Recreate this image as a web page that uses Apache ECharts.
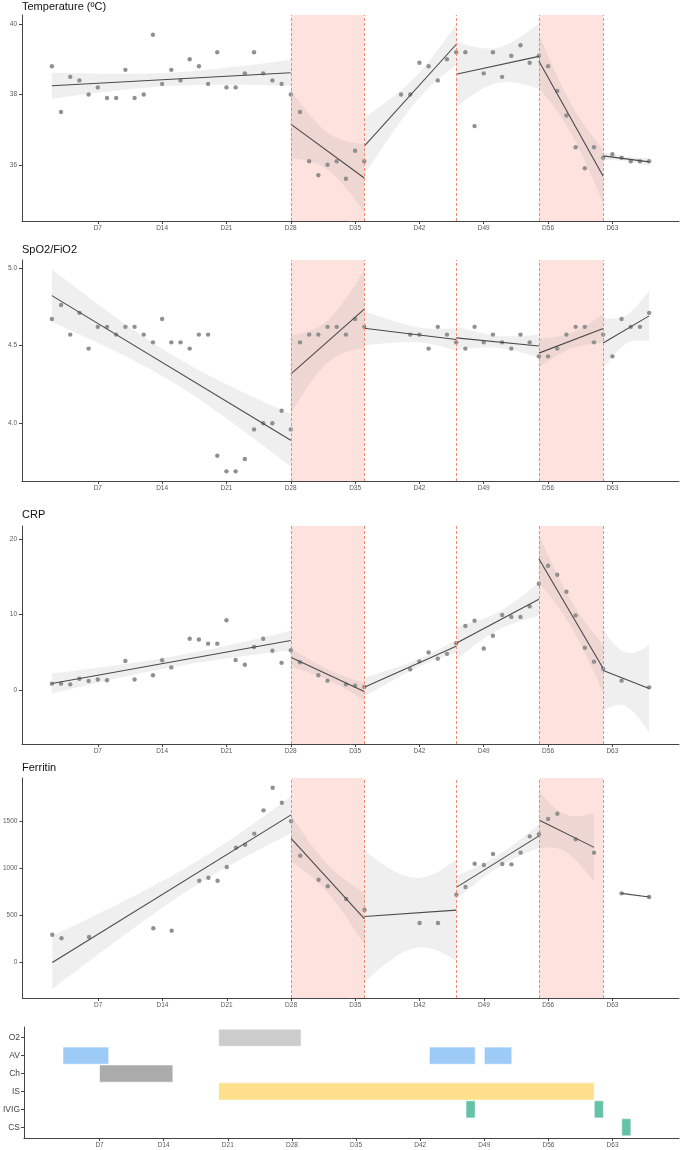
<!DOCTYPE html>
<html><head><meta charset="utf-8">
<script src="https://cdn.jsdelivr.net/npm/echarts@6/dist/echarts.min.js"></script>
<style>html,body{margin:0;padding:0;background:#fff}#c{width:690px;height:1150px}</style>
</head><body><div id="c"></div>
<script>
// ---------- data ----------
const dayTicks = [7, 14, 21, 28, 35, 42, 49, 56, 63];
const periodBreaks = [28, 36, 46, 55, 62];
const shadedPeriods = [[28, 36], [55, 62]];

const tempDays = [2,3,4,5,6,7,8,9,10,11,12,13,14,15,16,17,18,19,20,21,22,23,24,25,26,27,28,29,30,31,32,33,34,35,36,40,41,42,43,44,45,46,47,48,49,50,51,52,53,54,55,56,57,58,59,60,61,62,63,64,65,66,67];
const tempValues = [38.8,37.5,38.5,38.4,38.0,38.2,37.9,37.9,38.7,37.9,38.0,39.7,38.3,38.7,38.4,39.0,38.8,38.3,39.2,38.2,38.2,38.6,39.2,38.6,38.4,38.3,38.0,37.5,36.1,35.7,36.0,36.1,35.6,36.4,36.1,38.0,38.0,38.9,38.8,38.4,39.0,39.2,39.2,37.1,38.6,39.2,38.5,39.1,39.4,38.9,39.1,38.8,38.1,37.4,36.5,35.9,36.5,36.2,36.3,36.2,36.1,36.1,36.1];

const spoDays = [2,3,4,5,6,7,8,9,10,11,12,13,14,15,16,17,18,19,20,21,22,23,24,25,26,27,28,29,30,31,32,33,34,35,36,41,42,43,44,45,46,47,48,49,50,51,52,53,54,55,56,57,58,59,60,61,62,63,64,65,66,67];
const spoValues = [4.67,4.76,4.57,4.71,4.48,4.62,4.62,4.57,4.62,4.62,4.57,4.52,4.67,4.52,4.52,4.48,4.57,4.57,3.79,3.69,3.69,3.77,3.96,4.00,4.00,4.08,3.96,4.52,4.57,4.57,4.62,4.62,4.57,4.67,4.62,4.57,4.57,4.48,4.62,4.57,4.52,4.48,4.62,4.52,4.57,4.52,4.48,4.57,4.52,4.43,4.43,4.48,4.57,4.62,4.62,4.52,4.57,4.43,4.67,4.62,4.62,4.71];

const crpDays = [2,3,4,5,6,7,8,10,11,13,14,15,17,18,19,20,21,22,23,24,25,26,27,28,29,31,32,34,35,36,41,42,43,44,45,46,47,48,49,50,51,52,53,54,55,56,57,58,59,60,61,62,64,67];
const crpValues = [0.84,0.84,0.75,1.5,1.2,1.4,1.3,3.85,1.4,1.95,3.94,3.0,6.8,6.7,6.15,6.15,9.25,3.98,3.36,5.7,6.8,5.2,3.6,5.27,3.67,1.95,1.24,0.75,0.58,0.4,2.74,3.8,5.0,4.16,4.8,6.2,8.5,9.2,5.5,7.2,9.96,9.7,9.7,11.1,14.1,16.5,15.3,13.05,9.9,5.6,3.76,2.83,1.24,0.35];

const ferDays = [2,3,6,13,15,18,19,20,21,22,23,24,25,26,27,28,29,31,32,34,36,42,44,46,47,48,49,50,51,52,53,54,55,56,57,59,61,64,67];
const ferValues = [292,253,267,360,335,869,901,869,1015,1222,1254,1372,1621,1863,1703,1504,1137,880,809,673,556,417,417,720,802,1051,1037,1154,1047,1044,1169,1343,1365,1528,1585,1311,1169,734,695];

const treatNames = ['O2', 'AV', 'Ch', 'IS', 'IVIG', 'CS'];
const treatRows  = ['O2', 'AV', 'AV', 'AV', 'Ch', 'IS', 'IVIG', 'IVIG', 'CS'];
const treatStart = [20, 3, 43, 49, 7, 20, 47, 61, 64];
const treatEnd   = [29, 8, 48, 52, 15, 61, 48, 62, 65];

// ---------- styles ----------
const treatColors = ['#cccccc', '#9dcbf8', '#ababab', '#fddf8c', '#66c2a5', '#66c2a5'];
const FONT = 'Liberation Sans, Arial, sans-serif';
const AX = '#444444';
const LAB = '#5a5a5a';

// t quantiles (0.975) by degrees of freedom
const tCrit = [NaN,12.706,4.303,3.182,2.776,2.571,2.447,2.365,2.306,2.262,2.228,2.201,2.179,2.160,2.145,2.131,2.120,2.110,2.101,2.093,2.086,2.080,2.074,2.069,2.064,2.060,2.056,2.052,2.048,2.045,2.042];

function fitSegments(days, vals) {
  const edges = [-Infinity].concat(periodBreaks, [Infinity]);
  const segs = [];
  for (let k = 0; k < edges.length - 1; k++) {
    const xs = [], ys = [];
    days.forEach((d, i) => { if (d >= edges[k] && d <= edges[k + 1]) { xs.push(d); ys.push(vals[i]); } });
    const n = xs.length;
    if (n < 2) continue;
    const mx = xs.reduce((a, b) => a + b, 0) / n;
    const my = ys.reduce((a, b) => a + b, 0) / n;
    let sxx = 0, sxy = 0;
    for (let i = 0; i < n; i++) { sxx += (xs[i] - mx) ** 2; sxy += (xs[i] - mx) * (ys[i] - my); }
    const b = sxy / sxx, a = my - b * mx;
    const x0 = Math.min(...xs), x1 = Math.max(...xs);
    const seg = { line: [[x0, a + b * x0], [x1, a + b * x1]], band: null };
    if (n > 2) {
      let sse = 0;
      for (let i = 0; i < n; i++) sse += (ys[i] - a - b * xs[i]) ** 2;
      const s = Math.sqrt(sse / (n - 2));
      const t = tCrit[Math.min(n - 2, 30)];
      const band = [];
      const steps = 80;
      for (let j = 0; j < steps; j++) {
        const x = x0 + (x1 - x0) * j / (steps - 1);
        const f = a + b * x;
        const h = t * s * Math.sqrt(1 / n + (x - mx) ** 2 / sxx);
        band.push([x, f - h, f + h]);
      }
      seg.band = band;
    }
    segs.push(seg);
  }
  return segs;
}

// ---------- layout ----------
const grids = [
  { top: 15, height: 206 },
  { top: 260, height: 221 },
  { top: 526, height: 218 },
  { top: 778, height: 220 },
  { top: 1027, height: 111 }
];
const yCfg = [
  { min: 34.40, max: 40.26, ticks: [36, 38, 40], fmt: v => String(v) },
  { min: 3.628, max: 5.05, ticks: [4.0, 4.5, 5.0], fmt: v => v.toFixed(1) },
  { min: -7.17, max: 21.77, ticks: [0, 10, 20], fmt: v => String(v) },
  { min: -385, max: 1967, ticks: [0, 500, 1000, 1500], fmt: v => String(v) }
];
const titles = ['Temperature (ºC)', 'SpO2/FiO2', 'CRP', 'Ferritin'];
const titleTops = [1.5, 244.5, 509.5, 762.5];

const xAxes = grids.map((g, gi) => ({
  type: 'value', gridIndex: gi, min: -1.25, max: 70.25,
  axisLine: { show: true, onZero: false, lineStyle: { color: AX, width: 1 } },
  axisTick: { show: true, customValues: dayTicks, length: 3, lineStyle: { color: AX, width: 1 } },
  axisLabel: { customValues: dayTicks, formatter: v => 'D' + v, fontSize: 6.5, color: LAB, margin: 4, fontFamily: FONT },
  splitLine: { show: false }
}));

const yAxes = yCfg.map((c, gi) => ({
  type: 'value', gridIndex: gi, min: c.min, max: c.max,
  axisLine: { show: true, onZero: false, lineStyle: { color: AX, width: 1 } },
  axisTick: { show: true, customValues: c.ticks, length: 3, lineStyle: { color: AX, width: 1 } },
  axisLabel: { customValues: c.ticks, formatter: c.fmt, fontSize: 6.5, color: LAB, margin: 5, fontFamily: FONT },
  splitLine: { show: false }
}));
yAxes.push({
  type: 'value', gridIndex: 4, min: 0.4, max: 6.6, inverse: true,
  axisLine: { show: true, onZero: false, lineStyle: { color: AX, width: 1 } },
  axisTick: { show: true, customValues: [1, 2, 3, 4, 5, 6], length: 3, lineStyle: { color: AX, width: 1 } },
  axisLabel: { customValues: [1, 2, 3, 4, 5, 6], formatter: v => treatNames[Math.round(v) - 1], fontSize: 8.5, color: '#444', margin: 4, fontFamily: FONT },
  splitLine: { show: false }
});

const series = [];
const panels = [[tempDays, tempValues], [spoDays, spoValues], [crpDays, crpValues], [ferDays, ferValues]];
panels.forEach(([days, vals], gi) => {
  const segs = fitSegments(days, vals);
  // shaded periods + dashed boundaries
  series.push({
    type: 'line', xAxisIndex: gi, yAxisIndex: gi, data: [], z: 1, silent: true,
    markArea: { silent: true, itemStyle: { color: 'rgba(248,110,90,0.2)' },
      data: shadedPeriods.map(p => [{ xAxis: p[0] }, { xAxis: p[1] }]) },
    markLine: { silent: true, symbol: ['none', 'none'], label: { show: false },
      lineStyle: { type: [3, 2], color: '#f08c72', width: 1 },
      emphasis: { disabled: true },
      data: periodBreaks.map(b => ({ xAxis: b })) }
  });
  // confidence bands
  const bands = segs.filter(s => s.band).map(s => s.band);
  series.push({
    type: 'custom', xAxisIndex: gi, yAxisIndex: gi, z: 2, silent: true,
    data: bands.map((b, i) => [b[0][0], i]),
    renderItem: (params, api) => {
      const band = bands[params.dataIndex];
      const pts = [];
      band.forEach(r => pts.push(api.coord([r[0], r[2]])));
      for (let j = band.length - 1; j >= 0; j--) pts.push(api.coord([band[j][0], band[j][1]]));
      const cs = params.coordSys;
      const clipped = echarts.graphic.clipPointsByRect(pts, { x: cs.x, y: cs.y, width: cs.width, height: cs.height });
      return { type: 'polygon', shape: { points: clipped }, style: { fill: 'rgba(150,150,150,0.15)', stroke: null } };
    }
  });
  // points
  series.push({
    type: 'scatter', xAxisIndex: gi, yAxisIndex: gi, z: 3, silent: true,
    symbolSize: 4.4, itemStyle: { color: '#909090', opacity: 1 },
    data: days.map((d, i) => [d, vals[i]])
  });
  // regression lines
  segs.forEach(s => series.push({
    type: 'line', xAxisIndex: gi, yAxisIndex: gi, z: 4, silent: true,
    symbol: 'none', lineStyle: { color: '#4a4a4a', width: 1.1 },
    data: s.line
  }));
});

// treatment timeline
series.push({
  type: 'custom', xAxisIndex: 4, yAxisIndex: 4, z: 2, silent: true,
  data: treatRows.map((r, i) => [treatStart[i], treatEnd[i], treatNames.indexOf(r) + 1]),
  renderItem: (params, api) => {
    const s = api.coord([api.value(0), api.value(2)]);
    const e = api.coord([api.value(1), api.value(2)]);
    const h = api.size([0, 0.96])[1];
    const color = treatColors[api.value(2) - 1];
    return { type: 'rect', shape: { x: s[0], y: s[1] - h / 2, width: e[0] - s[0], height: h },
      style: { fill: color, stroke: '#ffffff', lineWidth: 0.6 } };
  }
});

const option = {
  animation: false,
  backgroundColor: '#ffffff',
  textStyle: { fontFamily: FONT },
  title: titles.map((t, i) => ({
    text: t, left: 22, top: titleTops[i], padding: 0,
    textStyle: { fontSize: 11, fontWeight: 'normal', color: '#111', fontFamily: FONT }
  })),
  grid: grids.map(g => ({ left: 22, right: 11, top: g.top, height: g.height, containLabel: false })),
  xAxis: xAxes,
  yAxis: yAxes,
  series: series
};

const chart = echarts.init(document.getElementById('c'), null, { renderer: 'canvas' });
chart.setOption(option);
</script>
</body></html>
